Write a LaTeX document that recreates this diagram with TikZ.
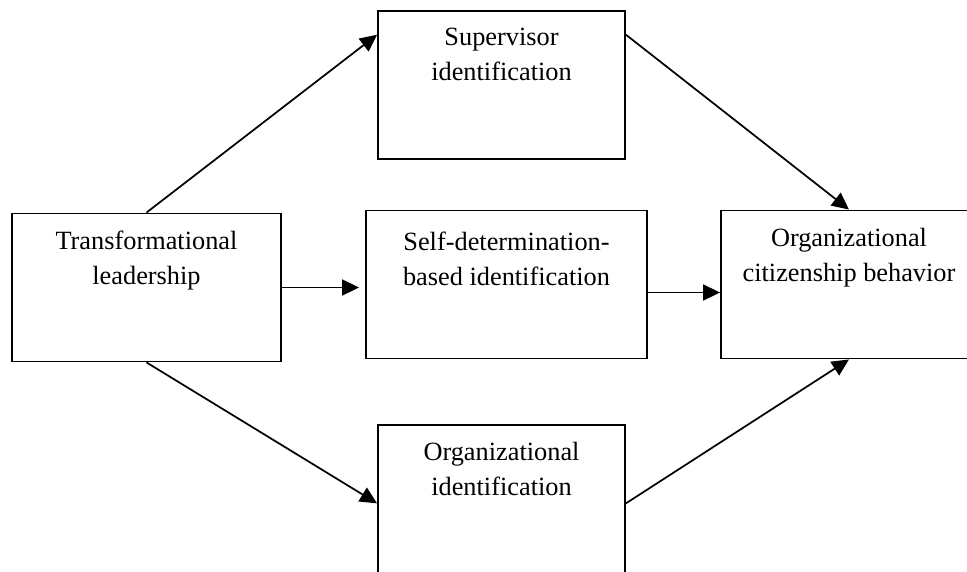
\documentclass[tikz,border=0pt]{standalone}
\usepackage{fontspec}
\setmainfont{Liberation Serif}
\usetikzlibrary{arrows.meta}

\begin{document}
\begin{tikzpicture}[x=0.75pt,y=-0.75pt,
    box/.style={draw, line width=1.4pt, inner sep=0pt, minimum height=111pt},
    boxtext/.style={anchor=north, align=center, inner sep=0pt, yshift=-13.5pt,
      font=\fontsize{19.75}{26.25}\selectfont},
    link/.style={-{Triangle[length=12.75pt,width=12pt]}, line width=1.3pt}]
  \useasboundingbox (0,0) rectangle (967,571);
  \clip (0,0) rectangle (967,571);

  \node[box, minimum width=201.75pt] (tl) at (146.5,287.5) {};
  \node[box, minimum width=185.25pt] (sup) at (501.5,85) {};
  \node[box, minimum width=210.75pt] (sdi) at (506.5,284.5) {};
  \node[box, minimum width=192pt] (ocb) at (849,284.5) {};
  \node[box, minimum width=185.25pt] (oi) at (501.5,499) {};

  \node[boxtext] (tltext) at (tl.north) {Transformational\\leadership};
  \node[boxtext] (suptext) at (sup.north) {Supervisor\\identification};
  \node[boxtext, yshift=-3pt] (sditext) at (sdi.north) {Self-determination-\\based identification};
  \node[boxtext] (ocbtext) at (ocb.north) {Organizational\\citizenship behavior};
  \node[boxtext] (oitext) at (oi.north) {Organizational\\identification};

  \draw[link] (tl.north) -- (sup.158);
  \draw[link, shorten >=4.5pt] (tl.east) -- (tl.east -| sdi.west);
  \draw[link] (tl.south) -- (oi.182);
  \draw[link] (sup.22) -- (ocb.north);
  \draw[link] ([yshift=-6pt]sdi.east) -- ([yshift=-6pt]sdi.east -| ocb.west);
  \draw[link] (oi.-2) -- (ocb.south);
\end{tikzpicture}
\end{document}
